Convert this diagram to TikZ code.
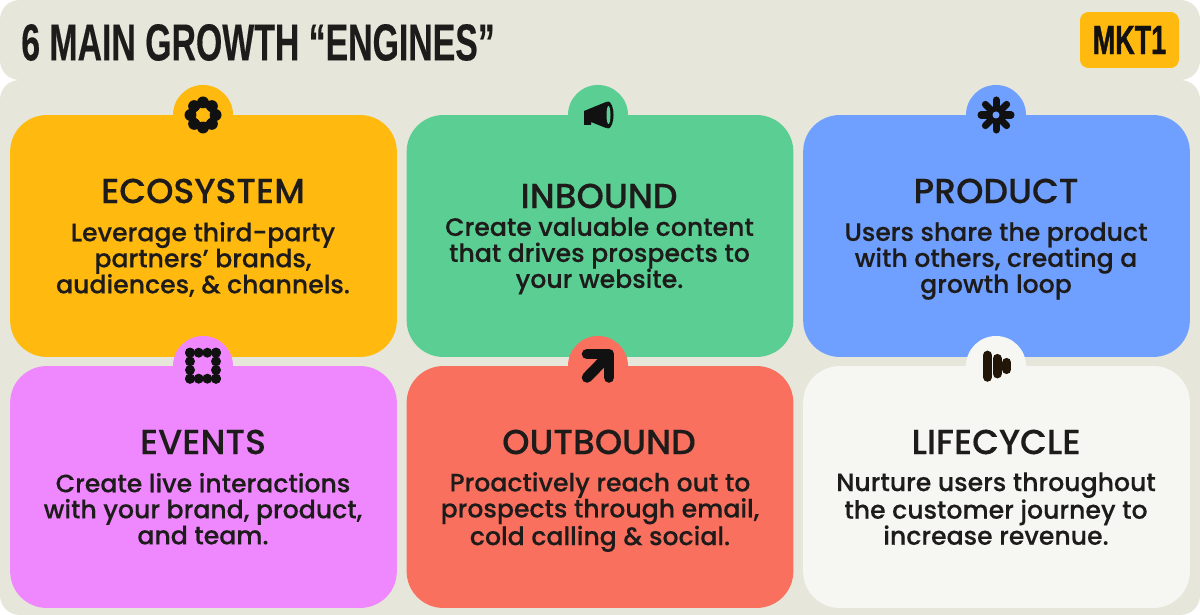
\documentclass[tikz,border=0pt]{standalone}
\usepackage{fontspec}
\setmainfont[FakeBold=0.25]{Poppins Medium}
\newfontfamily\titlefont[FakeStretch=0.65,FakeBold=0.3]{Liberation Sans Bold}
\newfontfamily\logofont[FakeStretch=0.66,FakeBold=1]{Liberation Sans Bold}
\usetikzlibrary{positioning}
\definecolor{panelbg}{HTML}{E6E7DA}
\definecolor{inkdark}{HTML}{1E1B1B}
\definecolor{iconblack}{HTML}{111111}
\definecolor{iconbrown}{HTML}{211608}
\definecolor{ecoyellow}{HTML}{FFB90F}
\definecolor{inboundgreen}{HTML}{5ACE93}
\definecolor{productblue}{HTML}{6F9FFF}
\definecolor{eventspink}{HTML}{EF88FF}
\definecolor{outboundred}{HTML}{F9705E}
\definecolor{lifecyclewhite}{HTML}{F6F7F2}
\tikzset{
panel/.style={fill=panelbg, rounded corners=14pt},
card/.style={rounded corners=26pt, minimum width=275pt, minimum height=172pt, inner sep=0pt},
tab/.style={circle, minimum size=42.7pt, inner sep=0pt},
cardhead/.style={text=inkdark, font=\fontsize{24.7}{26}\selectfont},
cardtext/.style={text=inkdark, align=center, font=\fontsize{17.9}{18.5}\selectfont, execute at begin node=\strut, execute at end node=\strut},
iconline/.style={iconblack, line cap=round, line join=round},
brownbar/.style={iconbrown, line width=6.5pt, line cap=round},
}
\begin{document}
\begin{tikzpicture}[x=0.025cm,y=-0.025cm]
\useasboundingbox (0,0) rectangle (1200,615);
\fill[white] (0,0) rectangle (1200,615);
\fill[panel] (0,0) rectangle (1200,80);
\fill[panel] (0,80) rectangle (1200,615);
\node[anchor=west, text=inkdark, inner sep=0pt, font=\titlefont\fontsize{37}{38}\selectfont] (title) at (21,42.5) {6 MAIN GROWTH “ENGINES”};
\node[fill=ecoyellow, rounded corners=6pt, minimum width=70.4pt, minimum height=39.8pt, inner sep=0pt, text=iconblack, font=\logofont\fontsize{29}{30}\selectfont] (logo) at (1129.5,40) {MKT1};
% top row
\node[card, fill=ecoyellow] (ecosystem) at (203.5,236) {};
\node[tab, fill=ecoyellow] (ecotab) at (203,115) {};
\node[card, fill=inboundgreen] (inbound) at (600,236) {};
\node[tab, fill=inboundgreen] (inboundtab) at (598,115) {};
\node[card, fill=productblue] (product) at (996.5,236) {};
\node[tab, fill=productblue] (producttab) at (996,115) {};
% bottom row
\node[card, fill=eventspink] (events) at (203.5,487) {};
\node[tab, fill=eventspink] (eventstab) at (203,366) {};
\node[card, fill=outboundred] (outbound) at (600,487) {};
\node[tab, fill=outboundred] (outboundtab) at (598,366) {};
\node[card, fill=lifecyclewhite] (lifecycle) at (996.5,487) {};
\node[tab, fill=lifecyclewhite] (lifecycletab) at (996,366) {};
% labels
\node[cardhead] (ecohead) at (203,191) {ECOSYSTEM};
\node[cardtext] (ecotext) at (203,261.5) {Leverage third-party\\partners’ brands,\\audiences, \& channels.};
\node[cardhead] (inboundhead) at (599,196) {INBOUND};
\node[cardtext] (inboundtext) at (599.5,256.5) {Create valuable content\\that drives prospects to\\your website.};
\node[cardhead] (producthead) at (996,191) {PRODUCT};
\node[cardtext] (producttext) at (996,261.5) {Users share the product\\with others, creating a\\growth loop};
\node[cardhead] (eventshead) at (203,442) {EVENTS};
\node[cardtext] (eventstext) at (203,512.5) {Create live interactions\\with your brand, product,\\and team.};
\node[cardhead] (outboundhead) at (599,442) {OUTBOUND};
\node[cardtext] (outboundtext) at (600,512.5) {Proactively reach out to\\prospects through email,\\cold calling \& social.};
\node[cardhead] (lifecyclehead) at (996,442) {LIFECYCLE};
\node[cardtext] (lifecycletext) at (996,512.5) {Nurture users throughout\\the customer journey to\\increase revenue.};
% icons
\foreach \a in {0,45,...,315}
  \fill[iconblack] (ecotab.center) ++(\a:12.5) circle (6);
\fill[ecoyellow] (ecotab.center) circle (6.5);
\fill[iconline] (584,111) -- (606,102) -- (606,128) -- (591,122) -- (591,125) -- (584,125) -- cycle;
\fill[iconblack] (608,115) ellipse (5.5 and 13.5);
\fill[inboundgreen] (608.5,115) ellipse (2 and 9);
\foreach \a in {0,45,...,315}
  \draw[iconline, line width=5pt] (producttab.center) -- ++(\a:15);
\fill[productblue] (producttab.center) circle (3.5);
\foreach \p in {0,1,2,3}{
  \fill[iconblack] (190+8.67*\p,352.7) circle (5);
  \fill[iconblack] (190+8.67*\p,378.7) circle (5);
  \fill[iconblack] (190,352.7+8.67*\p) circle (5);
  \fill[iconblack] (216,352.7+8.67*\p) circle (5);
}
\draw[iconline, line width=7.5pt] (587,354) -- (609,354) -- (609,377.5);
\draw[iconline, line width=7.5pt] (587,377.5) -- (607,357);
\fill[iconblack] (596,354) -- (609,354) -- (609,367) -- cycle;
\draw[brownbar] (987.5,355.2) -- (987.5,377.2);
\draw[brownbar] (997.2,358.5) -- (997.2,373.8);
\draw[brownbar] (1006.8,362.5) -- (1006.8,369.5);
\end{tikzpicture}
\end{document}
